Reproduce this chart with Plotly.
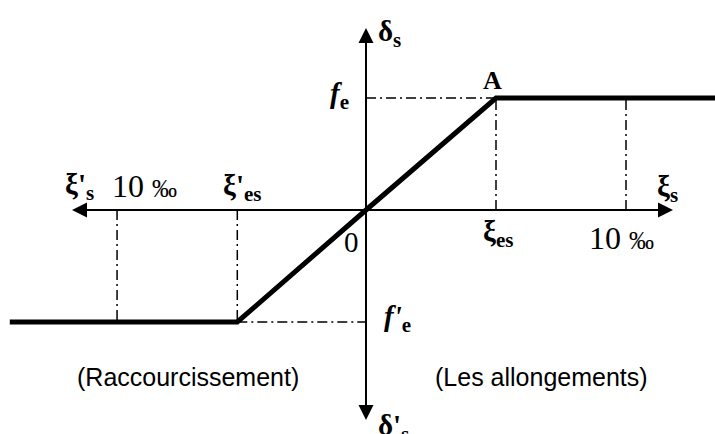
import plotly.graph_objects as go

# Schematic stress-strain diagram of reinforcing steel (elastic-perfectly plastic)
# Strain in units of the yield strain, stress in units of the yield stress.
xi_es = 1.0            # yield strain (tension)
xi_es_comp = -0.99     # yield strain (compression)
xi_lim = 2.0           # 10 per mille limit, tension side
xi_lim_comp = -1.915   # 10 per mille limit, compression side
f_e = 1.0              # yield stress (tension)
f_e_comp = -1.0        # yield stress (compression)

curve_x = [-2.74, xi_es_comp, 0.0, xi_es, 2.70]
curve_y = [f_e_comp, f_e_comp, 0.0, f_e, f_e]

W, H = 715, 434
X0, Y0, SX, SY = 366, 210, 130.0, 112.0


def px(xp):
    return (xp - X0) / SX


def py(yp):
    return (Y0 - yp) / SY


def sub(s, size=21):
    return "<sub><span style='font-size:%dpx'>%s</span></sub>" % (size, s)


fig = go.Figure()

# dash-dot guide lines
guides = [
    ([0.0, xi_es], [f_e, f_e]),
    ([xi_es, xi_es], [0.0, f_e]),
    ([xi_lim, xi_lim], [0.0, f_e]),
    ([xi_es_comp, 0.0], [f_e_comp, f_e_comp]),
    ([xi_es_comp, xi_es_comp], [0.0, f_e_comp]),
    ([xi_lim_comp, xi_lim_comp], [0.0, f_e_comp]),
]
for gx, gy in guides:
    fig.add_trace(go.Scatter(x=gx, y=gy, mode="lines",
                             line=dict(color="black", width=1.5, dash="10px,4px,2px,4px"),
                             hoverinfo="skip", showlegend=False))

# constitutive law
fig.add_trace(go.Scatter(x=curve_x, y=curve_y, mode="lines",
                         line=dict(color="black", width=5),
                         hoverinfo="skip", showlegend=False))

# axes with arrows
arrow_tips = [(px(673), 0.0), (px(72), 0.0), (0.0, py(28)), (0.0, py(420))]
for tx, ty in arrow_tips:
    fig.add_annotation(x=tx, y=ty, ax=0.0, ay=0.0, xref="x", yref="y",
                       axref="x", ayref="y", text="", showarrow=True,
                       arrowhead=2, arrowsize=1.5, arrowwidth=2,
                       arrowcolor="black", standoff=0, startstandoff=0)

SERIF = "Liberation Serif, Times New Roman, serif"
SANS = "Liberation Sans, Arial, sans-serif"
PM = " <span style='font-size:25px'>‰</span>"

labels = [
    # text, x px, y px, xanchor, yanchor, font, size
    ("<b>δ" + sub("s") + "</b>", 376, 33, "left", "middle", SERIF, 29),
    ("<b>A</b>", 492, 80, "center", "middle", SERIF, 26),
    ("<b><i>f</i>" + sub("e") + "</b>", 351, 95, "right", "middle", SERIF, 29),
    ("<b>ξ" + sub("s") + "</b>", 655, 188, "left", "middle", SERIF, 29),
    ("<b>ξ" + sub("es") + "</b>", 498, 233, "center", "middle", SERIF, 29),
    ("10" + PM, 621, 238, "center", "middle", SERIF, 32),
    ("0", 351, 242, "center", "middle", SERIF, 29),
    ("<b>ξ'" + sub("s") + "</b>", 63, 186, "left", "middle", SERIF, 29),
    ("10" + PM, 110, 186, "left", "middle", SERIF, 32),
    ("<b>ξ'" + sub("es") + "</b>", 221, 187, "left", "middle", SERIF, 29),
    ("<b><i>f'</i>" + sub("e") + "</b>", 382, 318, "left", "middle", SERIF, 29),
    ("(Raccourcissement)", 188, 377, "center", "middle", SANS, 25),
    ("(Les allongements)", 541, 377, "center", "middle", SANS, 25),
    ("<b>δ'" + sub("s") + "</b>", 376, 407, "left", "top", SERIF, 29),
]
for text, xp, yp, xa, ya, fam, size in labels:
    fig.add_annotation(x=px(xp), y=py(yp), xref="x", yref="y", text=text,
                       showarrow=False, xanchor=xa, yanchor=ya,
                       font=dict(family=fam, size=size, color="black"))

fig.update_xaxes(range=[px(0), px(W)], visible=False, fixedrange=True)
fig.update_yaxes(range=[py(H), py(0)], visible=False, fixedrange=True)
fig.update_layout(width=W, height=H, margin=dict(l=0, r=0, t=0, b=0),
                  plot_bgcolor="white", paper_bgcolor="white", showlegend=False)

fig.write_html("out.html")
